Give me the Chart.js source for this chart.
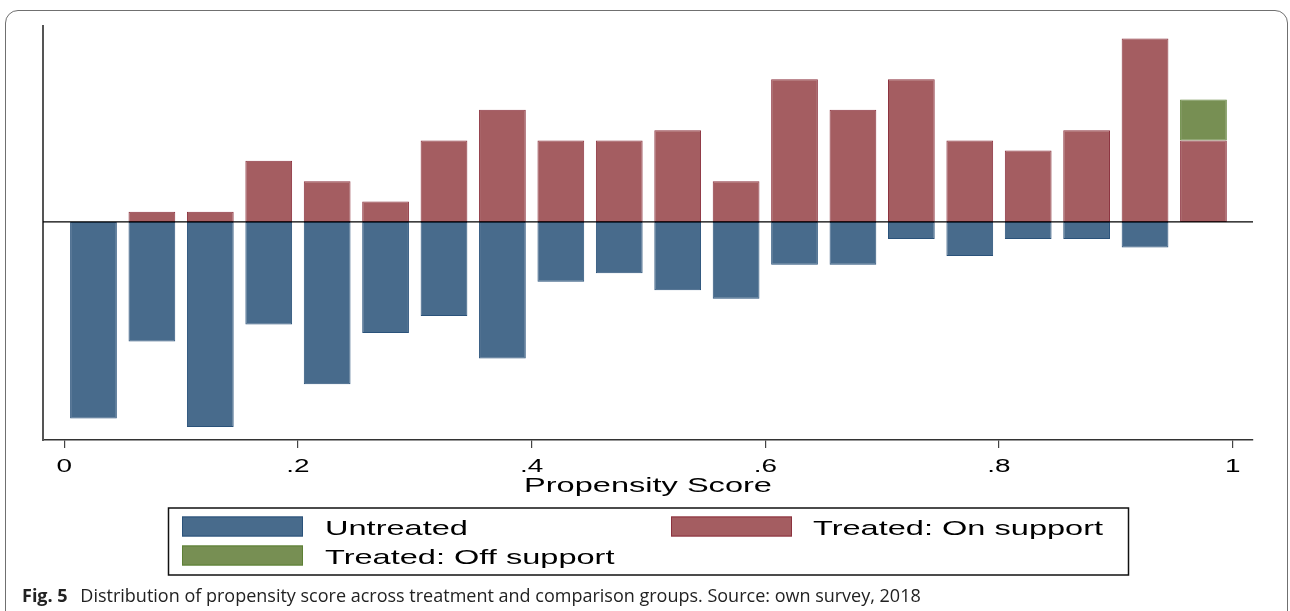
<!DOCTYPE html>
<html>
<head>
<meta charset="utf-8">
<script src="https://cdn.jsdelivr.net/npm/chart.js@4.4.1/dist/chart.umd.min.js"></script>
<style>
  html, body { margin: 0; padding: 0; background: #fff; width: 1290px; height: 611px; overflow: hidden; }
  #frame { position: absolute; left: 5px; top: 10px; width: 1283px; height: 640px;
           border: 1.5px solid #707070; border-radius: 13px; box-sizing: border-box; }
  #plot { position: absolute; left: 0; top: 0; }
  #caption { position: absolute; left: 22px; top: 583px; font-family: "Open Sans", "Noto Sans", sans-serif;
             font-size: 18px; line-height: 24px; color: #222; white-space: nowrap; }
  #caption b { font-weight: 700; margin-right: 8px; }
</style>
</head>
<body>
<div id="frame"></div>
<canvas id="plot" width="1290" height="611"></canvas>
<div id="caption"><b>Fig. 5</b> Distribution of propensity score across treatment and comparison groups. Source: own survey, 2018</div>
<script>
// Propensity-score bins (midpoints, width 0.05)
const binMid = [0.025, 0.075, 0.125, 0.175, 0.225, 0.275, 0.325, 0.375, 0.425, 0.475,
                0.525, 0.575, 0.625, 0.675, 0.725, 0.775, 0.825, 0.875, 0.925, 0.975];
const binWidth = 0.05;

// Observations per bin
const untreatedCount = [23, 14, 24, 12, 19, 13, 11, 16, 7, 6, 8, 9, 5, 5, 2, 4, 2, 2, 3, 0];
const treatedOnCount = [0, 1, 1, 6, 4, 2, 8, 11, 8, 8, 9, 4, 14, 11, 14, 8, 7, 9, 18, 8];
const treatedOffCount = [0, 0, 0, 0, 0, 0, 0, 0, 0, 0, 0, 0, 0, 0, 0, 0, 0, 0, 0, 4];

// Axis ticks
const xTickValues = [0, 0.2, 0.4, 0.6, 0.8, 1];
const xTickLabels = ['0', '.2', '.4', '.6', '.8', '1'];

const seriesNames = ['Untreated', 'Treated: On support', 'Treated: Off support'];

// Density per group: count / (group size * bin width); untreated drawn downward
const sum = a => a.reduce((s, v) => s + v, 0);
const nUntreated = sum(untreatedCount);
const nTreated = sum(treatedOnCount) + sum(treatedOffCount);
const toPoints = (counts, n, sign) => counts.map((c, i) => ({ x: binMid[i], y: c ? sign * c / (n * binWidth) : null }));

const COLORS = {
  untreated: { fill: '#486b8c', line: '#2a527a' },
  on:        { fill: '#a45d61', line: '#8c323e' },
  off:       { fill: '#778f53', line: '#5d8035' }
};

const FONT = '"Liberation Sans", Arial, sans-serif';
const STRETCH = 1.55;   // wide lettering used throughout the graph

function wideText(ctx, text, x, y, size, align) {
  ctx.save();
  ctx.font = size + 'px ' + FONT;
  ctx.fillStyle = '#000';
  ctx.textBaseline = 'alphabetic';
  ctx.translate(x, y);
  ctx.scale(STRETCH, 1);
  ctx.textAlign = align || 'left';
  ctx.fillText(text, 0, 0);
  ctx.restore();
}

const decorations = {
  id: 'decorations',
  afterDatasetsDraw(chart) {
    const { ctx, chartArea, scales } = chart;
    const y0 = scales.y.getPixelForValue(0);
    ctx.save();
    ctx.strokeStyle = '#000';
    ctx.lineWidth = 1.3;
    ctx.beginPath();
    ctx.moveTo(chartArea.left, y0);
    ctx.lineTo(chartArea.right, y0);
    ctx.stroke();
    ctx.restore();
  },
  afterDraw(chart) {
    const { ctx, chartArea, scales } = chart;
    // tick labels
    xTickValues.forEach((v, i) => {
      wideText(ctx, xTickLabels[i], scales.x.getPixelForValue(v), chartArea.bottom + 32, 18, 'center');
    });
    // axis title
    wideText(ctx, 'Propensity Score', (chartArea.left + chartArea.right) / 2, chartArea.bottom + 52, 21, 'center');

    // legend box
    ctx.save();
    ctx.strokeStyle = '#111';
    ctx.lineWidth = 1.5;
    ctx.strokeRect(168.5, 508, 960, 67);
    const ds = chart.data.datasets;
    const items = [
      { ds: ds[0], sx: 182, sy: 516.5, tx: 325, ty: 535 },
      { ds: ds[1], sx: 671, sy: 516.5, tx: 813, ty: 535 },
      { ds: ds[2], sx: 182, sy: 545.5, tx: 325, ty: 564 }
    ];
    items.forEach(it => {
      ctx.fillStyle = it.ds.backgroundColor;
      ctx.strokeStyle = it.ds.borderColor;
      ctx.lineWidth = 1;
      ctx.fillRect(it.sx, it.sy, 121, 20);
      ctx.strokeRect(it.sx + 0.5, it.sy + 0.5, 120, 19);
      wideText(ctx, it.ds.label, it.tx, it.ty, 21, 'left');
    });
    ctx.restore();
  }
};

const barCommon = { borderWidth: 1, borderSkipped: false, stack: 'ps', barPercentage: 0.8, categoryPercentage: 1.0 };

new Chart(document.getElementById('plot'), {
  type: 'bar',
  data: {
    datasets: [
      Object.assign({ label: seriesNames[0], data: toPoints(untreatedCount, nUntreated, -1),
        backgroundColor: COLORS.untreated.fill, borderColor: COLORS.untreated.line }, barCommon),
      Object.assign({ label: seriesNames[1], data: toPoints(treatedOnCount, nTreated, 1),
        backgroundColor: COLORS.on.fill, borderColor: COLORS.on.line }, barCommon),
      Object.assign({ label: seriesNames[2], data: toPoints(treatedOffCount, nTreated, 1),
        backgroundColor: COLORS.off.fill, borderColor: COLORS.off.line }, barCommon)
    ]
  },
  options: {
    responsive: false,
    animation: false,
    devicePixelRatio: 1,
    layout: { padding: { left: 43, right: 37, top: 26, bottom: 0 } },
    plugins: { legend: { display: false }, tooltip: { enabled: false } },
    scales: {
      x: {
        type: 'linear', min: -0.0182, max: 1.0174, stacked: true, offset: false,
        afterBuildTicks: s => { s.ticks = xTickValues.map(v => ({ value: v })); },
        afterFit: s => { s.height = 171; },
        ticks: { display: false },
        grid: { display: true, offset: false, drawOnChartArea: false, drawTicks: true, tickLength: 8, color: '#444', lineWidth: 1.2 },
        border: { display: true, color: '#333', width: 1.5 }
      },
      y: {
        min: -2.76, max: 2.48, stacked: true,
        afterFit: s => { s.width = 0; },
        ticks: { display: false },
        grid: { display: false },
        border: { display: true, color: '#555', width: 2 }
      }
    }
  },
  plugins: [decorations]
});
</script>
</body>
</html>
